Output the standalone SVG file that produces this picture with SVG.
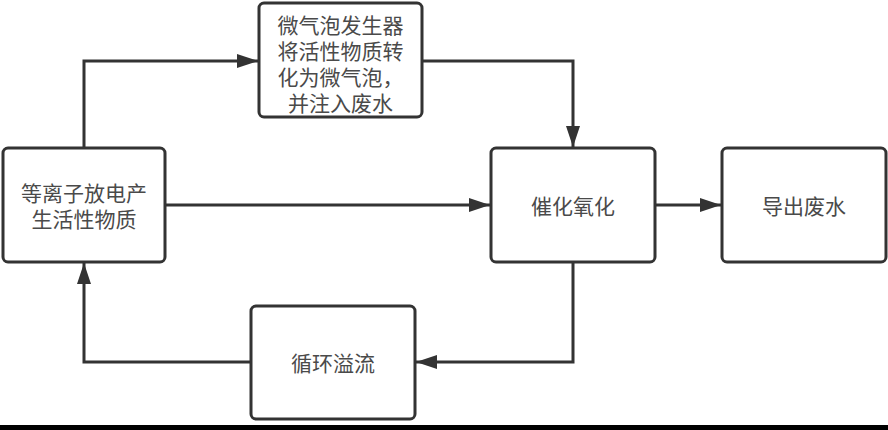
<svg xmlns="http://www.w3.org/2000/svg" width="888" height="430" viewBox="0 0 888 430">
<defs>
<style>
.box{fill:#fff;stroke:#333;stroke-width:3}
.t{font-family:"Noto Sans CJK SC","Noto Sans",sans-serif;font-size:21px;fill:#4a4a4a;text-anchor:middle;dominant-baseline:central}
.c{fill:none;stroke:#333;stroke-width:3}
</style>
<marker id="ah" viewBox="0 0 21 14" refX="21" refY="7" markerWidth="21" markerHeight="14" markerUnits="userSpaceOnUse" orient="auto">
<path d="M0,0 L21,7 L0,14 Z" fill="#333"/>
</marker>
</defs>
<rect x="0" y="0" width="888" height="430" fill="#fff"/>
<g id="connectors">
<path class="c" d="M84,148 V61 H258" marker-end="url(#ah)"/>
<path class="c" d="M422,61 H573 V147" marker-end="url(#ah)"/>
<path class="c" d="M165,205 H490" marker-end="url(#ah)"/>
<path class="c" d="M655,205 H721" marker-end="url(#ah)"/>
<path class="c" d="M573,262 V362 H416" marker-end="url(#ah)"/>
<path class="c" d="M251,362 H84 V263" marker-end="url(#ah)"/>
</g>
<g id="generator">
<rect class="box" x="259" y="3" width="163" height="114" rx="5"/>
<text class="t" x="340.5" y="24">微气泡发生器</text>
<text class="t" x="340.5" y="50">将活性物质转</text>
<text class="t" x="340.5" y="76">化为微气泡，</text>
<text class="t" x="340.5" y="102">并注入废水</text>
</g>
<g id="plasma">
<rect class="box" x="3" y="148" width="162" height="114" rx="5"/>
<text class="t" x="84" y="192">等离子放电产</text>
<text class="t" x="84" y="218">生活性物质</text>
</g>
<g id="oxidation">
<rect class="box" x="491" y="148" width="164" height="114" rx="5"/>
<text class="t" x="573" y="205">催化氧化</text>
</g>
<g id="export">
<rect class="box" x="722" y="148" width="164" height="114" rx="5"/>
<text class="t" x="804" y="205">导出废水</text>
</g>
<g id="recycle">
<rect class="box" x="251" y="306" width="164" height="113" rx="5"/>
<text class="t" x="333" y="362">循环溢流</text>
</g>
<rect x="0" y="425" width="888" height="5" fill="#000"/>
</svg>
